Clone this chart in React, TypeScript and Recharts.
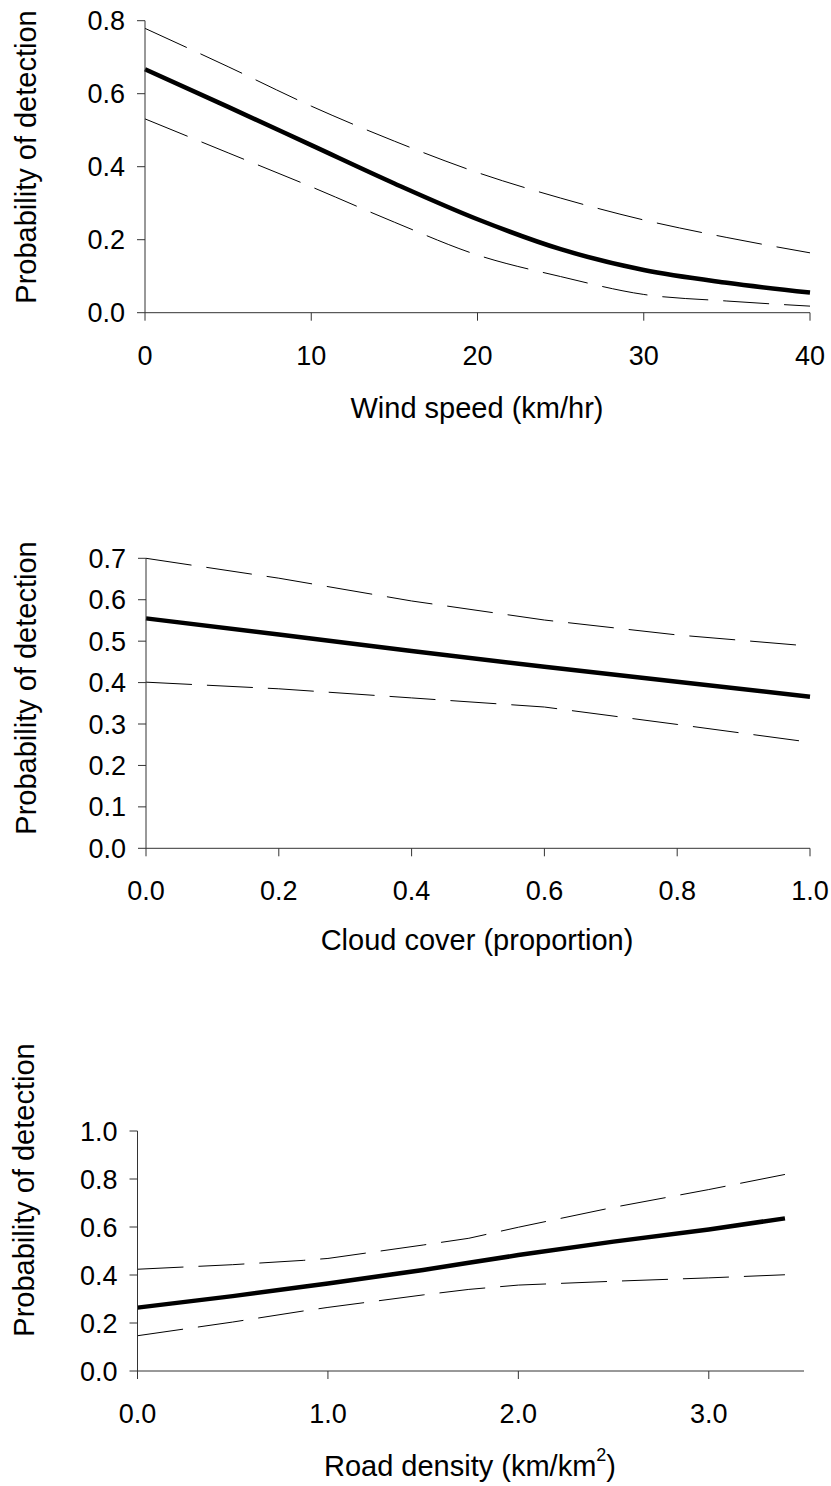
import { LineChart, Line, XAxis, YAxis, Label } from "recharts";

// ─── Wind speed panel ───────────────────────────────────────────────────────

const windSpeed = [0, 5, 10, 15, 20, 25, 30, 35, 40];
const windFit = [0.667, 0.564, 0.459, 0.354, 0.256, 0.174, 0.117, 0.082, 0.055];
const windUpper = [0.779, 0.674, 0.566, 0.47, 0.384, 0.314, 0.254, 0.206, 0.164];
const windLower = [0.531, 0.438, 0.345, 0.248, 0.158, 0.099, 0.05, 0.032, 0.018];
const windXTicks = [0, 10, 20, 30, 40];
const windYTicks = [0, 0.2, 0.4, 0.6, 0.8];

// ─── Cloud cover panel ──────────────────────────────────────────────────────

const cloudCover = [0, 0.2, 0.4, 0.6, 0.8, 1.0];
const cloudFit = [0.555, 0.516, 0.476, 0.438, 0.402, 0.366];
const cloudUpper = [0.7, 0.652, 0.597, 0.551, 0.515, 0.488];
const cloudLower = [0.401, 0.385, 0.363, 0.341, 0.299, 0.256];
const cloudXTicks = [0, 0.2, 0.4, 0.6, 0.8, 1.0];
const cloudYTicks = [0, 0.1, 0.2, 0.3, 0.4, 0.5, 0.6, 0.7];

// ─── Road density panel ─────────────────────────────────────────────────────

const roadDensity = [0, 0.5, 0.87, 1.0, 1.5, 1.74, 2.0, 2.5, 3.0, 3.4];
const roadFit = [0.264, 0.312, 0.351, 0.365, 0.421, 0.451, 0.483, 0.539, 0.59, 0.636];
const roadUpper = [0.424, 0.443, 0.461, 0.469, 0.525, 0.553, 0.599, 0.682, 0.756, 0.819];
const roadLower = [0.147, 0.204, 0.25, 0.265, 0.317, 0.34, 0.358, 0.374, 0.388, 0.401];
const roadXTicks = [0, 1.0, 2.0, 3.0];
const roadYTicks = [0, 0.2, 0.4, 0.6, 0.8, 1.0];

const YTITLE = "Probability of detection";

// ─── Styles ─────────────────────────────────────────────────────────────────

const FONT = "'Liberation Sans', Arial, sans-serif";
const AXIS = "#333";
const DASH = "46 15";
const TITLE_SIZE = 29;
const TICK = { fontSize: 27, fill: "#000", fontFamily: FONT };

function toRows(xs: number[], fit: number[], upper: number[], lower: number[]) {
  return xs.map((x, i) => ({ x, fit: fit[i], upper: upper[i], lower: lower[i] }));
}

type PanelProps = {
  top: number;
  height: number;
  rows: { x: number; fit: number; upper: number; lower: number }[];
  xDomain: [number, number];
  yDomain: [number, number];
  xTicks: number[];
  yTicks: number[];
  xFormat: (v: number) => string;
  margin: { top: number; right: number; left: number; bottom: number };
  yAxisWidth: number;
  xAxisHeight: number;
  curve: "monotone" | "linear";
  xTitle: React.ReactNode;
  xTitlePos: [number, number];
  yTitlePos: [number, number];
};

function Panel(p: PanelProps) {
  return (
    <div style={{ position: "absolute", left: 0, top: p.top }}>
      <LineChart width={831} height={p.height} data={p.rows} margin={p.margin}>
        <XAxis
          type="number"
          dataKey="x"
          domain={p.xDomain}
          ticks={p.xTicks}
          tickFormatter={p.xFormat}
          tick={TICK}
          tickSize={8}
          tickMargin={25}
          axisLine={{ stroke: AXIS }}
          tickLine={{ stroke: AXIS }}
          height={p.xAxisHeight}
          interval={0}
        >
          <Label
            content={() => (
              <text
                x={p.xTitlePos[0]}
                y={p.xTitlePos[1]}
                textAnchor="middle"
                dominantBaseline="central"
                fontSize={TITLE_SIZE}
                fontFamily={FONT}
                fill="#000"
              >
                {p.xTitle}
              </text>
            )}
          />
        </XAxis>
        <YAxis
          type="number"
          domain={p.yDomain}
          ticks={p.yTicks}
          tickFormatter={(v: number) => v.toFixed(1)}
          tick={TICK}
          tickSize={8}
          tickMargin={12}
          axisLine={{ stroke: AXIS }}
          tickLine={{ stroke: AXIS }}
          width={p.yAxisWidth}
          interval={0}
        >
          <Label
            content={() => (
              <text
                x={p.yTitlePos[0]}
                y={p.yTitlePos[1]}
                transform={`rotate(-90 ${p.yTitlePos[0]} ${p.yTitlePos[1]})`}
                textAnchor="middle"
                dominantBaseline="central"
                fontSize={TITLE_SIZE}
                fontFamily={FONT}
                fill="#000"
              >
                {YTITLE}
              </text>
            )}
          />
        </YAxis>
        <Line
          type={p.curve}
          dataKey="upper"
          stroke="#000"
          strokeWidth={1}
          strokeDasharray={DASH}
          dot={false}
          isAnimationActive={false}
        />
        <Line
          type={p.curve}
          dataKey="lower"
          stroke="#000"
          strokeWidth={1}
          strokeDasharray={DASH}
          dot={false}
          isAnimationActive={false}
        />
        <Line
          type={p.curve}
          dataKey="fit"
          stroke="#000"
          strokeWidth={4.5}
          dot={false}
          isAnimationActive={false}
        />
      </LineChart>
    </div>
  );
}

export default function App() {
  return (
    <div style={{ position: "relative", width: 831, height: 1486, background: "#fff" }}>
      <style>{"body{margin:0}"}</style>

      <Panel
        top={0}
        height={440}
        rows={toRows(windSpeed, windFit, windUpper, windLower)}
        xDomain={[0, 40]}
        yDomain={[0, 0.8]}
        xTicks={windXTicks}
        yTicks={windYTicks}
        xFormat={(v) => String(v)}
        margin={{ top: 20.7, right: 21, left: 0, bottom: 0 }}
        yAxisWidth={145}
        xAxisHeight={127.3}
        curve="monotone"
        xTitle="Wind speed (km/hr)"
        xTitlePos={[477, 408]}
        yTitlePos={[26, 157]}
      />

      <Panel
        top={520}
        height={470}
        rows={toRows(cloudCover, cloudFit, cloudUpper, cloudLower)}
        xDomain={[0, 1]}
        yDomain={[0, 0.7]}
        xTicks={cloudXTicks}
        yTicks={cloudYTicks}
        xFormat={(v) => v.toFixed(1)}
        margin={{ top: 38.3, right: 21, left: 0, bottom: 0 }}
        yAxisWidth={146}
        xAxisHeight={141.7}
        curve="linear"
        xTitle="Cloud cover (proportion)"
        xTitlePos={[477, 420]}
        yTitlePos={[26, 168]}
      />

      <Panel
        top={1030}
        height={456}
        rows={toRows(roadDensity, roadFit, roadUpper, roadLower)}
        xDomain={[0, 3.5]}
        yDomain={[0, 1]}
        xTicks={roadXTicks}
        yTicks={roadYTicks}
        xFormat={(v) => v.toFixed(1)}
        margin={{ top: 101, right: 27, left: 0, bottom: 0 }}
        yAxisWidth={137.5}
        xAxisHeight={115}
        curve="linear"
        xTitle={
          <>
            Road density (km/km
            <tspan dy={-11} fontSize={18}>2</tspan>
            <tspan dy={11}>)</tspan>
          </>
        }
        xTitlePos={[470, 436]}
        yTitlePos={[24, 160]}
      />
    </div>
  );
}
